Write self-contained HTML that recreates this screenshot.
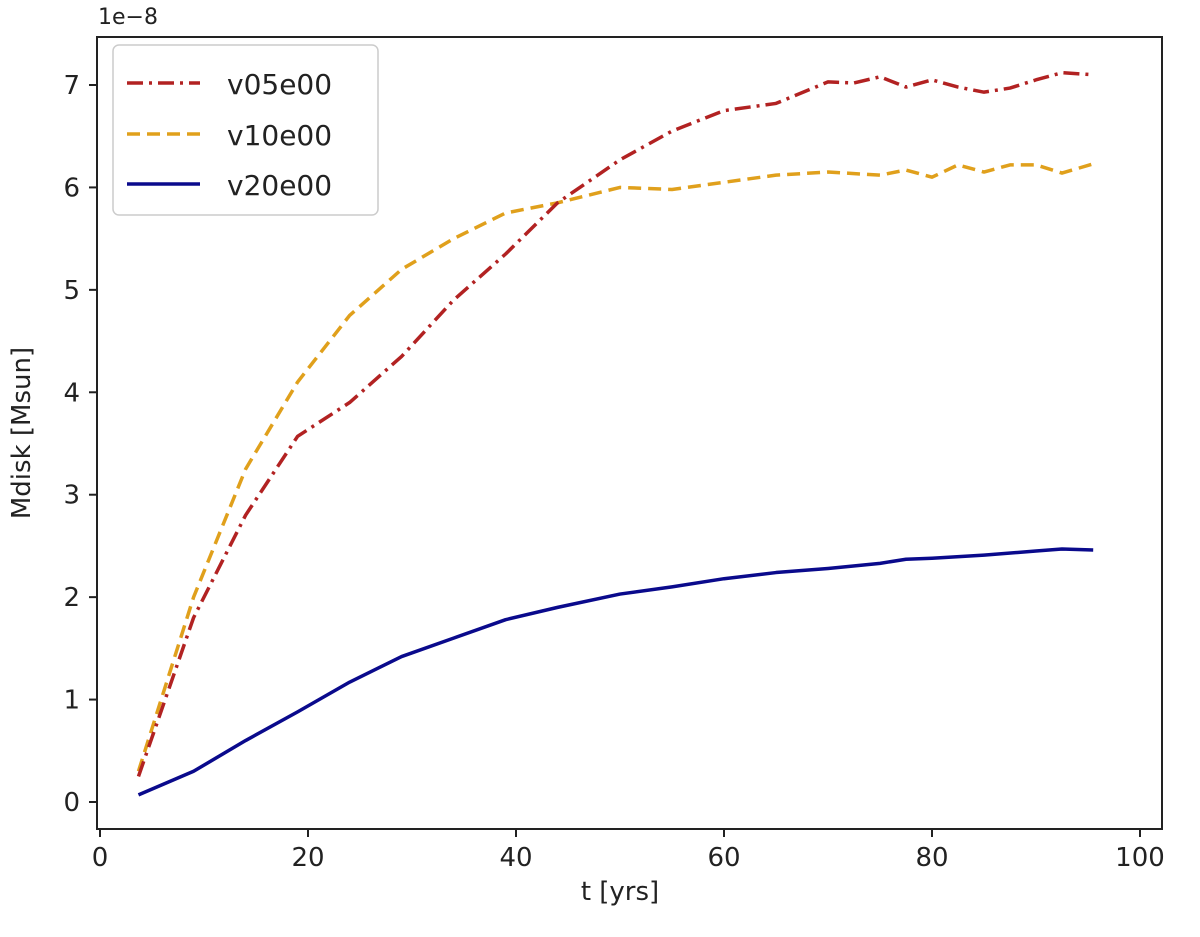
<!DOCTYPE html>
<html><head><meta charset="utf-8"><style>
body{margin:0;background:#fff;}
svg text{font-family:"DejaVu Sans","Liberation Sans",sans-serif;fill:#222;}
</style></head><body>
<svg id="chart" width="1200" height="932" xmlns="http://www.w3.org/2000/svg">
<rect x="0" y="0" width="1200" height="932" fill="#fff"/>
<g id="ticks"></g>
<g id="series"></g>
<rect x="97" y="37" width="1065" height="792" fill="none" stroke="#222" stroke-width="2"/>
<text x="98" y="24" font-size="22">1e−8</text>
<text x="620" y="900" font-size="26" text-anchor="middle">t [yrs]</text>
<text transform="translate(30,433) rotate(-90)" font-size="26" text-anchor="middle">Mdisk [Msun]</text>
<g>
<rect x="113" y="45" width="265" height="170" rx="6" fill="#fff" fill-opacity="0.9" stroke="#ccc" stroke-width="1.5"/>
<line x1="127" y1="83" x2="200" y2="83" stroke="#b22222" stroke-width="3.5" stroke-dasharray="16,6,3,6"/>
<text x="227" y="94" font-size="28">v05e00</text>
<line x1="127" y1="134" x2="200" y2="134" stroke="#e0a01c" stroke-width="3.5" stroke-dasharray="13,7"/>
<text x="227" y="145" font-size="28">v10e00</text>
<line x1="127" y1="184" x2="200" y2="184" stroke="#0a0a8c" stroke-width="3.5"/>
<text x="227" y="195" font-size="28">v20e00</text>
</g>
</svg>
<script>
const xTicks=[0,20,40,60,80,100];
const yTicks=[0,1,2,3,4,5,6,7];
const tV05=[3.7,9,14,19,24,29,34,39,44,50,55,60,65,70,72.5,75,77.5,80,82.5,85,87.5,90,92.5,95.5];
const mV05=[0.25,1.8,2.8,3.57,3.9,4.35,4.9,5.35,5.85,6.27,6.55,6.75,6.82,7.03,7.02,7.08,6.98,7.05,6.98,6.93,6.97,7.05,7.12,7.1];
const tV10=[3.7,9,14,19,24,29,34,39,44,50,55,60,65,70,75,77.5,80,82.5,85,87.5,90,92.5,95.5];
const mV10=[0.3,2.0,3.25,4.1,4.75,5.2,5.5,5.75,5.85,6.0,5.98,6.05,6.12,6.15,6.12,6.17,6.1,6.22,6.15,6.22,6.22,6.14,6.23];
const tV20=[3.7,9,14,19,24,29,34,39,44,50,55,60,65,70,75,77.5,80,85,90,92.5,95.5];
const mV20=[0.07,0.3,0.6,0.88,1.17,1.42,1.6,1.78,1.9,2.03,2.1,2.18,2.24,2.28,2.33,2.37,2.38,2.41,2.45,2.47,2.46];
const NS="http://www.w3.org/2000/svg";
function xs(v){return 100+v*10.4;}
function ys(v){return 802-v*102.43;}
const tg=document.getElementById('ticks');
xTicks.forEach(v=>{
 const l=document.createElementNS(NS,'line');
 l.setAttribute('x1',xs(v));l.setAttribute('x2',xs(v));l.setAttribute('y1',829);l.setAttribute('y2',837);
 l.setAttribute('stroke','#222');l.setAttribute('stroke-width','2');
 
 
 tg.appendChild(l);
 const t=document.createElementNS(NS,'text');
 t.setAttribute('x',xs(v));t.setAttribute('y',866);t.setAttribute('font-size','26');t.setAttribute('text-anchor','middle');
 t.textContent=v;
 
 
 tg.appendChild(t);
});
yTicks.forEach(v=>{
 const l=document.createElementNS(NS,'line');
 l.setAttribute('x1',89);l.setAttribute('x2',97);l.setAttribute('y1',ys(v));l.setAttribute('y2',ys(v));
 l.setAttribute('stroke','#222');l.setAttribute('stroke-width','2');
 
 
 tg.appendChild(l);
 const t=document.createElementNS(NS,'text');
 t.setAttribute('x',80);t.setAttribute('y',ys(v)+9);t.setAttribute('font-size','26');t.setAttribute('text-anchor','end');
 t.textContent=v;
 
 
 tg.appendChild(t);
});
const sg=document.getElementById('series');
function draw(ts,ms,color,dash,name){
 const p=document.createElementNS(NS,'polyline');
 p.setAttribute('points',ts.map((t,i)=>xs(t)+','+ys(ms[i])).join(' '));
 p.setAttribute('fill','none');p.setAttribute('stroke',color);p.setAttribute('stroke-width','3.5');
 p.setAttribute('stroke-linejoin','round');
 if(dash)p.setAttribute('stroke-dasharray',dash);
 
 
 sg.appendChild(p);
}
draw(tV20,mV20,'#0a0a8c',null,'line-v20e00');
draw(tV10,mV10,'#e0a01c','13,7','line-v10e00');
draw(tV05,mV05,'#b22222','16,6,3,6','line-v05e00');
</script>
</body></html>
